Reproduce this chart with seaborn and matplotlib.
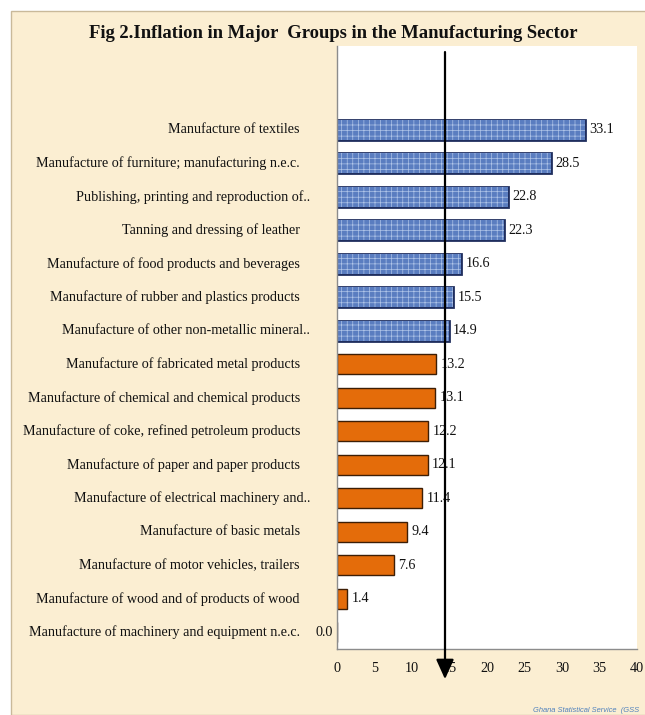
import matplotlib
matplotlib.use("Agg")
import matplotlib.pyplot as plt
import matplotlib.patheffects as pe
import seaborn as sns
import pandas as pd
from matplotlib.patches import Rectangle

categories = [
    "Manufacture of textiles",
    "Manufacture of furniture; manufacturing n.e.c.",
    "Publishing, printing and reproduction of..",
    "Tanning and dressing of leather",
    "Manufacture of food products and beverages",
    "Manufacture of rubber and plastics products",
    "Manufacture of other non-metallic mineral..",
    "Manufacture of fabricated metal products",
    "Manufacture of chemical and chemical products",
    "Manufacture of coke, refined petroleum products",
    "Manufacture of paper and paper products",
    "Manufacture of electrical machinery and..",
    "Manufacture of basic metals",
    "Manufacture of motor vehicles, trailers",
    "Manufacture of wood and of products of wood",
    "Manufacture of machinery and equipment n.e.c.",
]
values = [33.1, 28.5, 22.8, 22.3, 16.6, 15.5, 14.9, 13.2, 13.1, 12.2, 12.1, 11.4, 9.4, 7.6, 1.4, 0.0]
groups = ["above"] * 7 + ["below"] * 9
marker_value = 14.4
title = "Fig 2.Inflation in Major  Groups in the Manufacturing Sector"
footer = "Ghana Statistical Service  (GSS"
xticks = [0, 5, 10, 15, 20, 25, 30, 35, 40]

sns.set_theme(style="white")
plt.rcParams["font.family"] = ["Liberation Serif", "DejaVu Serif"]
plt.rcParams["hatch.linewidth"] = 0.5

W, H = 645, 715
fig = plt.figure(figsize=(W / 100, H / 100), dpi=100)
fig.patch.set_facecolor("white")
fig.patches.append(Rectangle((11 / W, 0), 1 - 11 / W + 0.01, 1 - 11 / H,
                             transform=fig.transFigure, facecolor="#FBEED2",
                             edgecolor="#C9B99A", linewidth=1.0, zorder=-10))

ax = fig.add_axes([337 / W, (H - 649) / H, 300 / W, (649 - 46) / H])
ax.set_facecolor("white")

df = pd.DataFrame({"category": categories, "value": values, "group": groups})
sns.barplot(data=df, x="value", y="category", hue="group", orient="h",
            palette={"above": "#5A7DC0", "below": "#E46C0A"}, dodge=False,
            width=0.6, legend=False, saturation=1, ax=ax, order=categories)

for container, grp in zip(ax.containers, ["above", "below"]):
    for bar in container:
        if grp == "above":
            # light texture lines inside, dark navy outline via stroke effect
            bar.set_edgecolor("#AFC4E8")
            bar.set_hatch("+++")
            bar.set_linewidth(0)
            bar.set_path_effects([pe.Stroke(linewidth=2.0, foreground="#1F2E5E"),
                                  pe.Normal()])
        else:
            bar.set_edgecolor("#3D1E05")
            bar.set_linewidth(1.0)

ax.set_xlim(0, 40)
ax.set_ylim(len(categories) - 0.5, -2.5)
ax.set_xticks(xticks)
ax.set_xticklabels([str(t) for t in xticks], fontsize=10.2, color="#111111")
ax.tick_params(axis="x", length=0, pad=9)
ax.set_yticks([])
ax.set_xlabel("")
ax.set_ylabel("")
for s in ["top", "right"]:
    ax.spines[s].set_visible(False)
for s in ["left", "bottom"]:
    ax.spines[s].set_color("#8C8C8C")
    ax.spines[s].set_linewidth(1.0)

ytrans = ax.get_yaxis_transform()
for i, (cat, v) in enumerate(zip(categories, values)):
    xoff = -27 / 300 if cat.endswith("..") else -37 / 300
    ax.text(xoff, i, cat, transform=ytrans, ha="right", va="center",
            fontsize=10.2, color="#111111", clip_on=False)
    if v == 0:
        ax.text(-0.6, i, f"{v:.1f}", ha="right", va="center", fontsize=10.2,
                color="#111111", clip_on=False)
    else:
        ax.text(v + 0.6, i, f"{v:.1f}", ha="left", va="center", fontsize=10.2,
                color="#111111", clip_on=False)

ax.annotate("", xy=(marker_value, -0.05), xycoords=("data", "axes fraction"),
            xytext=(marker_value, 0.99), textcoords=("data", "axes fraction"),
            arrowprops=dict(arrowstyle="-|>,head_length=1.0,head_width=0.45",
                            color="black", lw=1.6, shrinkA=0, shrinkB=0),
            annotation_clip=False)

fig.text(333 / W, 1 - 33 / H, title, ha="center", va="center",
         fontsize=13.4, fontweight="bold", color="#111111")
fig.text(533 / W, 1 - 711 / H, footer, ha="left", va="center",
         fontsize=5.4, style="italic", color="#4F81BD",
         family=["Liberation Sans", "DejaVu Sans"])

fig.savefig("out.png", dpi=100)
